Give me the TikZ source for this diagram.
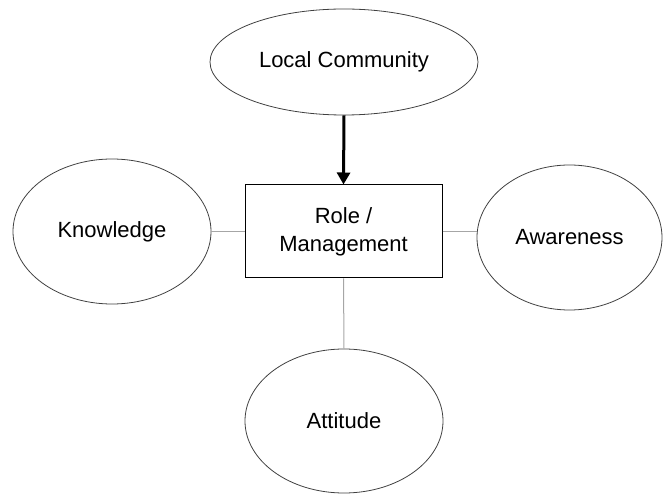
\documentclass[tikz,border=0pt]{standalone}
\usepackage{fontspec}
\setmainfont{Liberation Sans}
\usetikzlibrary{shapes.geometric,arrows.meta}
\begin{document}
\begin{tikzpicture}[x=1pt,y=-1pt,
  oval/.style={ellipse,draw=black!75,line width=0.8pt,inner sep=0pt,font=\fontsize{22}{28}\selectfont},
  rolebox/.style={rectangle,draw=black,line width=1pt,inner sep=0pt,minimum width=197pt,minimum height=93pt,align=center,font=\fontsize{22}{28}\selectfont},
  link/.style={draw=black!35,line width=1pt},
  mainarrow/.style={draw=black,line width=3pt,-{Triangle[length=12pt,width=13pt]}}]
\useasboundingbox (0,0) rectangle (665,494);
\node[oval,minimum width=268pt,minimum height=106pt] (lc) at (344,62) {Local Community};
\node[rolebox] (role) at (343.5,231.5) {Role /\\Management};
\node[oval,minimum width=198pt,minimum height=145pt] (kn) at (112,231.5) {Knowledge};
\node[oval,minimum width=185pt,minimum height=145pt] (aw) at (569.5,237.5) {Awareness};
\node[oval,minimum width=198pt,minimum height=144pt] (at) at (344,421) {Attitude};
\draw[mainarrow] (lc.south) -- (role.north);
\draw[link] (kn.east |- 0,232) -- (role.west |- 0,232);
\draw[link] (role.east |- 0,232) -- (aw.west |- 0,232);
\draw[link] (role.south) -- (at.north);
\end{tikzpicture}
\end{document}
